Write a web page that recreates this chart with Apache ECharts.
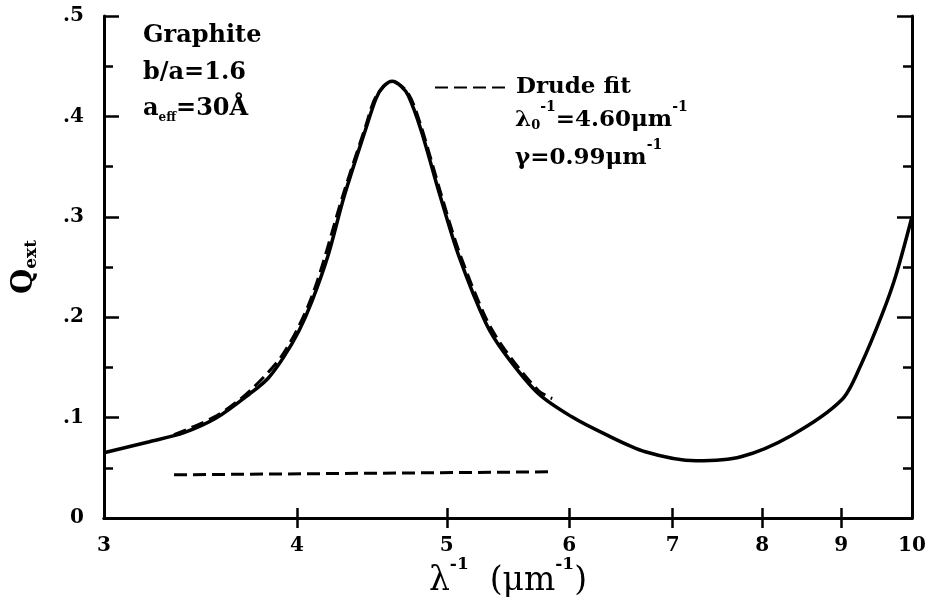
<!DOCTYPE html>
<html>
<head>
<meta charset="utf-8">
<script src="https://cdn.jsdelivr.net/npm/echarts@6/dist/echarts.min.js"></script>
<style>
  html, body { margin: 0; padding: 0; background: #fff; }
  #main { width: 935px; height: 597px; }
</style>
</head>
<body>
<div id="main"></div>
<script>
// wavenumber (1/um) and Q_ext
const waveSolid = [3.00, 3.21, 3.38, 3.55, 3.73, 3.83, 3.92, 4.01, 4.09, 4.19, 4.29, 4.43, 4.50, 4.55, 4.61, 4.67,
  4.72, 4.81, 4.95, 5.09, 5.30, 5.45, 5.73, 6.02, 6.32, 6.72, 7.25, 7.75, 8.35, 9.01, 9.27, 9.56, 9.76, 10.0]
const qSolid = [0.065, 0.076, 0.085, 0.100, 0.124, 0.139, 0.160, 0.186, 0.216, 0.262, 0.320, 0.387, 0.418, 0.430, 0.435, 0.430,
  0.421, 0.387, 0.321, 0.261, 0.194, 0.164, 0.124, 0.101, 0.084, 0.066, 0.057, 0.061, 0.082, 0.118, 0.153, 0.202, 0.241, 0.300]

const waveDrude = [3.33, 3.55, 3.73, 3.92, 4.09, 4.29, 4.43, 4.50, 4.61, 4.72, 4.81, 4.95, 5.09, 5.30, 5.45, 5.73, 5.85]
const qDrude = [0.083, 0.102, 0.127, 0.164, 0.221, 0.325, 0.390, 0.420, 0.435, 0.423, 0.391, 0.326, 0.266, 0.199, 0.168, 0.127, 0.119]

const waveBackground = [3.33, 5.85]
const qBackground = [0.043, 0.046]

const xTickValues = [4, 5, 6, 7, 8, 9]
const xLabelValues = [3, 4, 5, 6, 7, 8, 9, 10]

const font = 'DejaVu Serif'

const toPoints = (xs, ys) => xs.map((x, i) => [Math.log10(x), ys[i]])

const myChart = echarts.init(document.getElementById('main'))

const frameLine = { lineStyle: { color: '#000', width: 3 } }
const tickLine = { color: '#000', width: 2.5 }

// tall line box: main text at the bottom, the -1 at the top
const supRich = {
  t: { fontFamily: font, fontWeight: 'bold', fontSize: 23, color: '#000', lineHeight: 32, verticalAlign: 'bottom' },
  sub: { fontFamily: font, fontWeight: 'bold', fontSize: 13, color: '#000', lineHeight: 32, verticalAlign: 'bottom' },
  sup: { fontFamily: font, fontWeight: 'bold', fontSize: 14, color: '#000', lineHeight: 32, verticalAlign: 'top' }
}

const option = {
  animation: false,
  backgroundColor: '#fff',
  grid: { left: 104, right: 23, top: 16, bottom: 79, outerBoundsMode: 'none' },
  legend: {
    data: ['Drude fit'],
    left: 429,
    top: 71,
    itemWidth: 76,
    itemHeight: 14,
    itemGap: 6,
    itemStyle: { opacity: 0 },
    textStyle: { fontFamily: font, fontWeight: 'bold', fontSize: 23, color: '#000' }
  },
  xAxis: [
    {
      type: 'value',
      position: 'bottom',
      min: Math.log10(3),
      max: 1,
      axisLine: frameLine,
      splitLine: { show: false },
      axisTick: {
        inside: true,
        length: 10,
        lineStyle: tickLine,
        customValues: xTickValues.map((v) => Math.log10(v))
      },
      axisLabel: {
        customValues: xLabelValues.map((v) => Math.log10(v)),
        formatter: (v) => String(Math.round(Math.pow(10, v))),
        margin: 18,
        color: '#000',
        fontFamily: font,
        fontWeight: 'bold',
        fontSize: 20
      },
      name: '{t|λ}{sup|-1}{t|  (μm}{sup|-1}{t|)}',
      nameLocation: 'middle',
      nameGap: 38,
      nameMoveOverlap: false,
      nameTextStyle: {
        rich: {
          t: { fontFamily: font, fontSize: 33, color: '#000', lineHeight: 42, verticalAlign: 'bottom' },
          sup: { fontFamily: font, fontSize: 17, fontWeight: 'bold', color: '#000', lineHeight: 42, verticalAlign: 'top' }
        }
      }
    },
    {
      type: 'value',
      position: 'top',
      min: Math.log10(3),
      max: 1,
      axisLine: frameLine,
      splitLine: { show: false },
      axisTick: {
        inside: true,
        length: 10,
        lineStyle: tickLine,
        customValues: xTickValues.map((v) => Math.log10(v))
      },
      axisLabel: { show: false }
    }
  ],
  yAxis: [
    {
      type: 'value',
      position: 'left',
      min: 0,
      max: 0.5,
      interval: 0.1,
      axisLine: { show: true, ...frameLine },
      splitLine: { show: false },
      axisTick: { inside: true, length: 15, lineStyle: tickLine },
      minorTick: { show: true, splitNumber: 2, length: 9, lineStyle: tickLine },
      axisLabel: {
        formatter: (v) => (v === 0 ? '0' : v.toFixed(1).replace('0.', '.')),
        margin: 20,
        color: '#000',
        fontFamily: font,
        fontWeight: 'bold',
        fontSize: 20
      },
      name: '{t|Q}{sub|ext}',
      nameLocation: 'middle',
      nameRotate: 90,
      nameGap: 64,
      nameTextStyle: {
        rich: {
          t: { fontFamily: font, fontWeight: 'bold', fontSize: 29, color: '#000', lineHeight: 32 },
          sub: { fontFamily: font, fontWeight: 'bold', fontSize: 17, color: '#000', lineHeight: 17, verticalAlign: 'bottom' }
        }
      }
    },
    {
      type: 'value',
      position: 'right',
      min: 0,
      max: 0.5,
      interval: 0.1,
      axisLine: { show: true, ...frameLine },
      splitLine: { show: false },
      axisTick: { inside: true, length: 15, lineStyle: tickLine },
      minorTick: { show: true, splitNumber: 2, length: 9, lineStyle: tickLine },
      axisLabel: { show: false }
    }
  ],
  graphic: [
    {
      type: 'text',
      left: 143,
      top: 24,
      style: { text: 'Graphite', font: 'bold 24px "DejaVu Serif"', fill: '#000' }
    },
    {
      type: 'text',
      left: 143,
      top: 61,
      style: { text: 'b/a=1.6', font: 'bold 24px "DejaVu Serif"', fill: '#000' }
    },
    {
      type: 'text',
      left: 143,
      top: 97,
      style: {
        text: '{t|a}{sub|eff}{t|=30Å}',
        rich: {
          t: { fontFamily: font, fontWeight: 'bold', fontSize: 24, fill: '#000', lineHeight: 30 },
          sub: { fontFamily: font, fontWeight: 'bold', fontSize: 12, fill: '#000', lineHeight: 12, verticalAlign: 'bottom' }
        }
      }
    },
    {
      type: 'text',
      left: 515,
      top: 100,
      style: { text: '{t|λ}{sub|0}{sup|-1}{t|=4.60μm}{sup|-1}', rich: supRich }
    },
    {
      type: 'text',
      left: 515,
      top: 138,
      style: { text: '{t|γ=0.99μm}{sup|-1}', rich: supRich }
    }
  ],
  series: [
    {
      name: 'Q_ext',
      type: 'line',
      smooth: 0.3,
      showSymbol: false,
      symbol: 'none',
      lineStyle: { color: '#000', width: 3.5 },
      data: toPoints(waveSolid, qSolid)
    },
    {
      name: 'Drude fit',
      type: 'line',
      smooth: 0.3,
      showSymbol: false,
      symbol: 'none',
      itemStyle: { color: '#000' },
      lineStyle: { color: '#000', width: 3, type: [13, 6] },
      data: toPoints(waveDrude, qDrude)
    },
    {
      name: 'background',
      type: 'line',
      showSymbol: false,
      symbol: 'none',
      lineStyle: { color: '#000', width: 3, type: [13, 6] },
      data: toPoints(waveBackground, qBackground)
    }
  ]
}

myChart.setOption(option)
</script>
</body>
</html>
